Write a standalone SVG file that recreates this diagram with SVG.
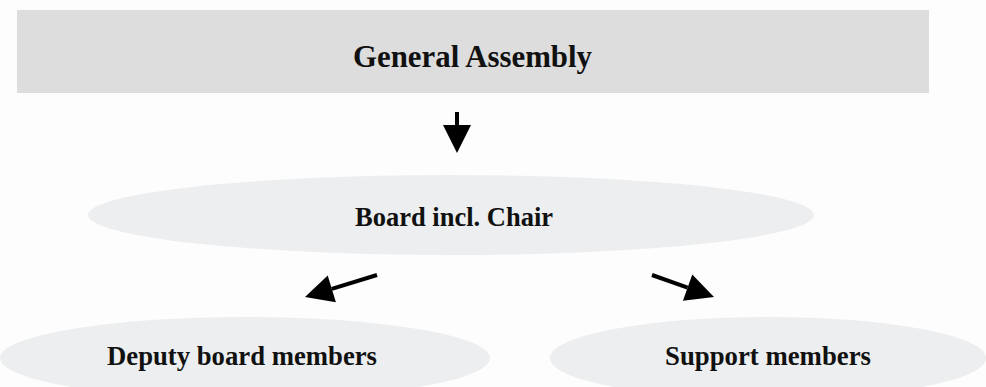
<svg xmlns="http://www.w3.org/2000/svg" width="986" height="387" viewBox="0 0 986 387">
<style>
.lbl{font-family:"Liberation Serif","Times New Roman",serif;font-weight:bold;fill:#111;text-anchor:start}
.box{fill:#dddddd}
.oval{fill:#eceeef}
.conn{stroke:#000;stroke-width:4;fill:none;marker-end:url(#ah)}
</style>
<defs>
<marker id="ah" markerUnits="userSpaceOnUse" markerWidth="30" markerHeight="28" refX="0" refY="14" orient="auto" overflow="visible">
<path d="M0,0 L28,14 L0,28 Z" fill="#000"/>
</marker>
</defs>
<rect width="986" height="387" fill="#fdfdfe"/>
<g id="general-assembly">
<rect class="box" x="17" y="10" width="912" height="83"/>
<text class="lbl" x="353" y="67" font-size="32" textLength="239" lengthAdjust="spacingAndGlyphs">General Assembly</text>
</g>
<g id="board">
<ellipse class="oval" cx="451" cy="215" rx="363" ry="40"/>
<text class="lbl" x="355" y="226" font-size="28" textLength="198" lengthAdjust="spacingAndGlyphs">Board incl. Chair</text>
</g>
<g id="deputy">
<ellipse class="oval" cx="245" cy="358" rx="245" ry="41"/>
<text class="lbl" x="107" y="365" font-size="27" textLength="270" lengthAdjust="spacingAndGlyphs">Deputy board members</text>
</g>
<g id="support">
<ellipse class="oval" cx="768" cy="358" rx="218" ry="41"/>
<text class="lbl" x="665" y="365" font-size="27" textLength="206" lengthAdjust="spacingAndGlyphs">Support members</text>
</g>
<g id="connectors">
<line class="conn" x1="457" y1="112" x2="457" y2="125"/>
<line class="conn" x1="377" y1="275" x2="331.8" y2="288.8"/>
<line class="conn" x1="652" y1="275" x2="687.6" y2="287.6"/>
</g>
</svg>
